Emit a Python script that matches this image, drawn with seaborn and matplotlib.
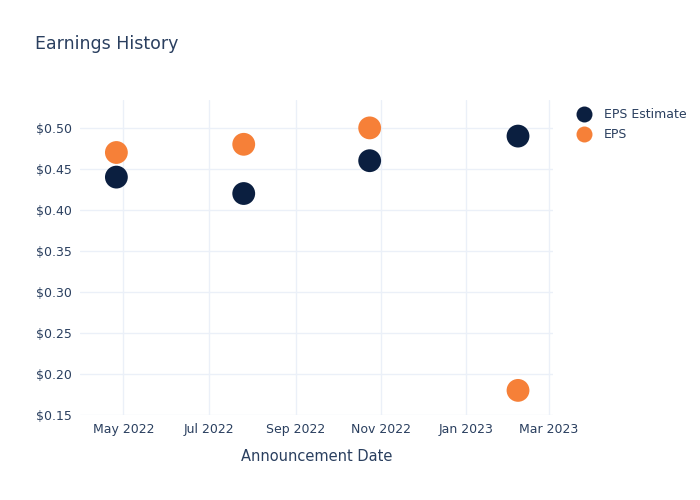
import matplotlib
matplotlib.use("Agg")
import matplotlib.pyplot as plt
import matplotlib.dates as mdates
from matplotlib.ticker import FuncFormatter, MultipleLocator
import seaborn as sns
import pandas as pd
import numpy as np

dates = ["2022-04-26", "2022-07-26", "2022-10-24", "2023-02-07"]
eps_estimate = [0.44, 0.42, 0.46, 0.49]
eps_actual = [0.47, 0.48, 0.50, 0.18]
series_names = ["EPS Estimate", "EPS"]
colors = ["#0b1f40", "#f68038"]

df = pd.DataFrame({
    "date": pd.to_datetime(dates * 2),
    "value": eps_estimate + eps_actual,
    "series": [series_names[0]] * 4 + [series_names[1]] * 4,
})

sns.set_theme(style="white")
plt.rcParams["font.family"] = ["DejaVu Sans"]
text_color = "#2a3f5f"
grid_color = "#ebf0f8"

fig = plt.figure(figsize=(7, 5), dpi=100)
ax = fig.add_axes([80 / 700, 1 - 415 / 500, (553 - 80) / 700, (415 - 100) / 500])

sns.scatterplot(data=df, x="date", y="value", hue="series", palette=colors,
                hue_order=series_names, s=270, edgecolor="none", ax=ax,
                legend=False, zorder=3)

ax.set_xlim(pd.Timestamp("2022-03-31"), pd.Timestamp("2023-03-04"))
ax.set_ylim(0.15, 0.534)
ax.xaxis.set_major_locator(mdates.MonthLocator(bymonth=[1, 3, 5, 7, 9, 11]))
ax.xaxis.set_major_formatter(mdates.DateFormatter("%b %Y"))
ax.yaxis.set_major_locator(MultipleLocator(0.05))
ax.yaxis.set_major_formatter(FuncFormatter(lambda v, p: f"${v:.2f}"))
ax.grid(True, color=grid_color, linewidth=1)
ax.set_axisbelow(True)
for sp in ax.spines.values():
    sp.set_visible(False)
ax.tick_params(axis="both", length=0, labelsize=9, colors=text_color, pad=6)
ax.set_xlabel("Announcement Date", fontsize=10.5, color=text_color, labelpad=9)
ax.set_ylabel("")

fig.text(35 / 700, 1 - 44 / 500, "Earnings History", fontsize=12.5,
         color=text_color, va="center", ha="left")

handles = [plt.Line2D([], [], marker="o", linestyle="", markersize=11.5,
                      markerfacecolor=c, markeredgecolor="none") for c in colors]
fig.legend(handles, series_names, loc="upper left", bbox_to_anchor=(570 / 700, 1 - 103 / 500),
           frameon=False, fontsize=9, labelcolor=text_color, handletextpad=0.8,
           labelspacing=0.6, borderaxespad=0, handlelength=1.5)

fig.savefig("out.png", dpi=100, facecolor="white")
